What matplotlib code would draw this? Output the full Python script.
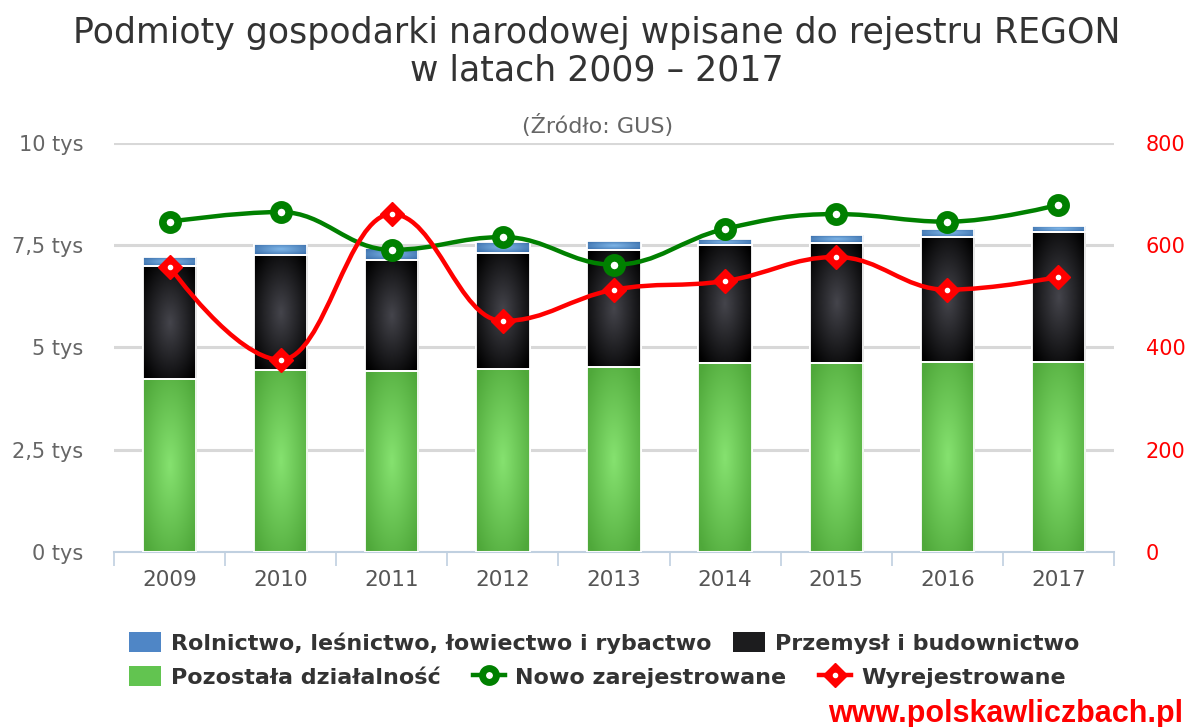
import numpy as np
import matplotlib
matplotlib.use("Agg")
import matplotlib.pyplot as plt
from matplotlib.path import Path
from matplotlib.patches import PathPatch, Patch
from matplotlib.lines import Line2D
from matplotlib.legend_handler import HandlerTuple
from matplotlib.colors import to_rgb

# data
years = ["2009", "2010", "2011", "2012", "2013", "2014", "2015", "2016", "2017"]
pozostala = [4.23, 4.45, 4.43, 4.47, 4.52, 4.62, 4.62, 4.65, 4.65]      # tys
przemysl = [2.76, 2.81, 2.71, 2.84, 2.86, 2.89, 2.94, 3.05, 3.17]       # tys
rolnictwo = [0.22, 0.27, 0.29, 0.27, 0.22, 0.14, 0.19, 0.20, 0.15]      # tys
nowo = [646, 665, 591, 616, 562, 632, 661, 646, 679]
wyrej = [558, 376, 661, 452, 513, 530, 577, 513, 538]

left_ticks = [0, 2.5, 5, 7.5, 10]
left_labels = ["0 tys", "2,5 tys", "5 tys", "7,5 tys", "10 tys"]
right_ticks = [0, 200, 400, 600, 800]

W, H = 1189, 727
fig = plt.figure(figsize=(W / 100, H / 100), dpi=100)
ax = fig.add_axes([114 / W, 1 - 552 / H, 1000 / W, 409 / H])
ax2 = ax.twinx()

x = np.arange(len(years))
bw = 0.48


def radial_img(c_mid, c_edge, n=60):
    u = np.linspace(-1, 1, n)
    uu, vv = np.meshgrid(u, u)
    r = np.clip(np.sqrt(uu ** 2 + vv ** 2) / 1.3, 0, 1)[..., None]
    return np.array(to_rgb(c_mid)) * (1 - r) + np.array(to_rgb(c_edge)) * r


styles = [
    ("#86e270", "#4fa83a"),   # pozostala
    ("#45454c", "#000000"),   # przemysl
    ("#7fb6e8", "#3a6eaa"),   # rolnictwo
]
bottom = np.zeros(len(years))
for vals, (cm, ce) in zip([pozostala, przemysl, rolnictwo], styles):
    bars = ax.bar(x, vals, bw, bottom=bottom, color=ce, edgecolor="white",
                  linewidth=1.3, zorder=2)
    img = radial_img(cm, ce)
    for b in bars:
        x0, y0 = b.get_x(), b.get_y()
        im = ax.imshow(img, extent=(x0, x0 + b.get_width(), y0, y0 + b.get_height()),
                       aspect="auto", interpolation="bilinear", zorder=2.5)
        im.set_clip_path(b)
        ax.bar(b.get_x() + b.get_width() / 2, b.get_height(), b.get_width(),
               bottom=y0, color="none", edgecolor="white", linewidth=1.3, zorder=3)
    bottom += np.array(vals)

ax.set_xlim(-0.5, len(years) - 0.5)
ax.set_ylim(0, 10)
ax.set_yticks(left_ticks)
ax.set_yticklabels(left_labels)
ax.tick_params(axis="y", length=0, pad=22, labelsize=15, labelcolor="#666666")
for t in left_ticks[1:]:
    ax.axhline(t, color="#d8d8d8", lw=2.2, zorder=1)

ax.set_xticks(np.arange(len(years) + 1) - 0.5)
ax.set_xticklabels([])
ax.set_xticks(x, minor=True)
ax.set_xticklabels(years, minor=True)
ax.tick_params(axis="x", which="major", length=10, width=1.2, color="#c0d0e0")
ax.tick_params(axis="x", which="minor", length=0, pad=13, labelsize=15.5,
               labelcolor="#555555")

for a in (ax, ax2):
    for s in ["top", "left", "right"]:
        a.spines[s].set_visible(False)
ax.spines["bottom"].set_color("#c0d0e0")
ax.spines["bottom"].set_linewidth(1.5)
ax2.spines["bottom"].set_visible(False)

ax2.set_ylim(0, 800)
ax2.set_yticks(right_ticks)
ax2.tick_params(axis="y", length=0, pad=23, labelsize=15, labelcolor="red")


def spline_path(xs, ys, smoothing=1.5):
    n = len(xs)
    lc = [(xs[i], ys[i]) for i in range(n)]
    rc = [(xs[i], ys[i]) for i in range(n)]
    d = smoothing + 1
    for i in range(1, n - 1):
        px, py = xs[i], ys[i]
        lx, ly = xs[i - 1], ys[i - 1]
        nx, ny = xs[i + 1], ys[i + 1]
        lcx, lcy = (smoothing * px + lx) / d, (smoothing * py + ly) / d
        rcx, rcy = (smoothing * px + nx) / d, (smoothing * py + ny) / d
        corr = (rcy - lcy) * (rcx - px) / (rcx - lcx) + py - rcy
        lcy += corr
        rcy += corr
        if lcy > ly and lcy > py:
            lcy = max(ly, py); rcy = 2 * py - lcy
        elif lcy < ly and lcy < py:
            lcy = min(ly, py); rcy = 2 * py - lcy
        if rcy > ny and rcy > py:
            rcy = max(ny, py); lcy = 2 * py - rcy
        elif rcy < ny and rcy < py:
            rcy = min(ny, py); lcy = 2 * py - rcy
        lc[i] = (lcx, lcy)
        rc[i] = (rcx, rcy)
    verts = [(xs[0], ys[0])]
    codes = [Path.MOVETO]
    for i in range(1, n):
        verts += [rc[i - 1], lc[i], (xs[i], ys[i])]
        codes += [Path.CURVE4] * 3
    return Path(verts, codes)


ax2.add_patch(PathPatch(spline_path(x, nowo), fc="none", ec="#008000", lw=3.2, zorder=4))
ax2.add_patch(PathPatch(spline_path(x, wyrej), fc="none", ec="#ff0000", lw=3.2, zorder=5))
ax2.plot(x, nowo, ls="none", marker="o", ms=11, mfc="white", mec="#008000",
         mew=5.5, zorder=6)
ax2.plot(x, wyrej, ls="none", marker="D", ms=12.5, mfc="red", mec="red", zorder=7)
ax2.plot(x, wyrej, ls="none", marker="o", ms=3, mfc="white", mec="white", zorder=8)

fig.text(597 / W, 1 - 52 / H,
         "Podmioty gospodarki narodowej wpisane do rejestru REGON\nw latach 2009 – 2017",
         ha="center", va="center", fontsize=25, color="#333333", linespacing=1.12)
fig.text(598 / W, 1 - 126 / H, "(Źródło: GUS)", ha="center", va="center",
         fontsize=16, color="#666666")

lg_kw = dict(frameon=False, handlelength=1.45, handleheight=1.0,
             handletextpad=0.45, borderpad=0, borderaxespad=0, loc="center left",
             prop={"weight": "bold", "size": 16})
h_rol = Patch(facecolor="#4f86c6", edgecolor="none")
h_prz = Patch(facecolor="#1c1c1e", edgecolor="none")
h_poz = Patch(facecolor="#62c450", edgecolor="none")
h_nowo = Line2D([], [], color="#008000", lw=3.2, marker="o", ms=10, mfc="white",
                mec="#008000", mew=5)
h_wy = (Line2D([], [], color="red", lw=3.2, marker="D", ms=12, mfc="red", mec="red"),
        Line2D([], [], ls="none", marker="o", ms=3, mfc="white", mec="white"))

leg1 = fig.legend([h_rol, h_prz],
                  ["Rolnictwo, leśnictwo, łowiectwo i rybactwo", "Przemysł i budownictwo"],
                  ncol=2, columnspacing=0.95, bbox_to_anchor=(129 / W, 1 - 643 / H), **lg_kw)
for t in leg1.get_texts():
    t.set_color("#333333")
leg2 = fig.legend([h_poz, h_nowo, h_wy],
                  ["Pozostała działalność", "Nowo zarejestrowane", "Wyrejestrowane"],
                  ncol=3, columnspacing=1.45, bbox_to_anchor=(129 / W, 1 - 677 / H),
                  handler_map={tuple: HandlerTuple(ndivide=1)}, **lg_kw)
for t in leg2.get_texts():
    t.set_color("#333333")

fig.text(1183 / W, 1 - 714 / H, "www.polskawliczbach.pl", ha="right", va="center",
         fontsize=22, fontweight="bold", color="red", family="Liberation Sans")

fig.savefig("out.png", dpi=100)
